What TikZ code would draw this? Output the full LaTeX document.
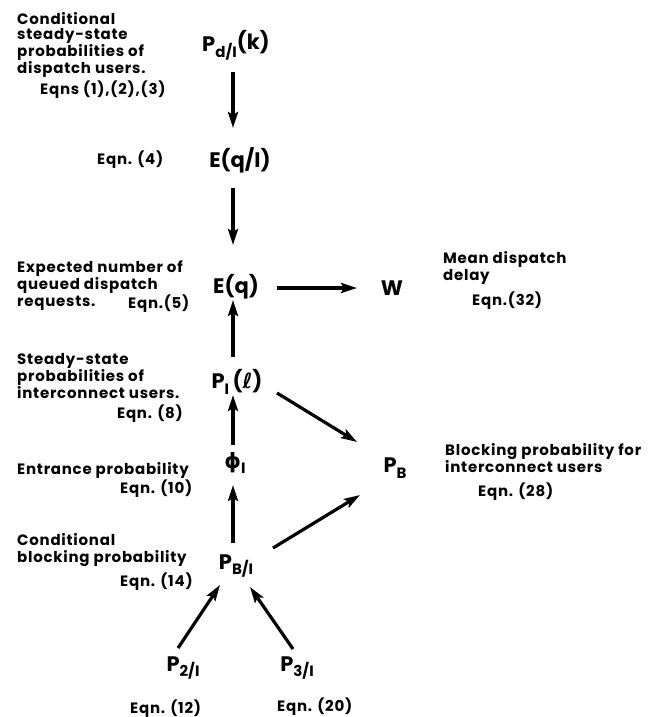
\documentclass[tikz,border=0pt]{standalone}
\usepackage{fontspec}
\setmainfont{Poppins}[LetterSpace=5]
\newfontfamily\symfont{Poppins}
\newfontfamily\greekfont{DejaVu Sans}
\usetikzlibrary{arrows.meta,calc}
\newcommand{\mysub}[1]{\raisebox{-0.5ex}{\fontsize{15}{15}\selectfont #1}}
\begin{document}
\begin{tikzpicture}[x=1pt,y=-1pt,
  lbl/.style={inner sep=0pt,align=left,font=\fontsize{15}{17}\selectfont\bfseries},
  lbltight/.style={lbl,font=\fontsize{15}{15.7}\selectfont\bfseries},
  sym/.style={inner sep=0pt,font=\symfont\fontsize{21}{21}\selectfont\bfseries},
  arr/.style={line width=3.2pt,-{Stealth[length=16pt,width=10pt,inset=3pt]}}]
\useasboundingbox (0,0) rectangle (655,717);
% symbols
\node[sym] (Pd)  at (236,45)  {P\mysub{d/I}\raisebox{0.2ex}{(k)}};
\node[sym] (EqI) at (240,160) {E(q/I)};
\node[sym] (Eq)  at (236,287) {E(q)};
\node[sym] (W)   at (392,288) {W};
\node[sym] (PI)  at (237,382) {P\mysub{I}\,({\greekfont\bfseries ℓ})};
\node[sym] (phi) at (235,463) {{\greekfont\bfseries ϕ}\mysub{I}};
\node[sym] (PBI) at (236,566) {P\mysub{B/I}};
\node[sym] (P2)  at (183,668) {P\mysub{2/I}};
\node[sym] (P3)  at (297,668) {P\mysub{3/I}};
\node[sym] (PB)  at (395,468) {P\mysub{B}};
% labels
\node[lbltight,anchor=north west] (L1) at (17,12) {Conditional\\steady-state\\probabilities of\\dispatch users.};
\node[lbl,anchor=base west] (L1e) at (40,94) {Eqns (1),(2),(3)};
\node[lbl,anchor=west] (L2) at (97,160) {Eqn. (4)};
\node[lbl,anchor=north west] (L3) at (17,261) {Expected number of\\queued dispatch\\requests.};
\node[lbl,anchor=base west] (L3e) at (128,308) {Eqn.(5)};
\node[lbl,anchor=north west] (L4) at (17,353) {Steady-state\\probabilities of\\interconnect users.};
\node[lbl,anchor=base east] (L4e) at (183,418) {Eqn. (8)};
\node[lbl,anchor=base west] (L5) at (17,474) {Entrance probability};
\node[lbl,anchor=base west] (L5e) at (120,493) {Eqn. (10)};
\node[lbl,anchor=north west] (L6) at (17,533) {Conditional\\blocking probability};
\node[lbl,anchor=base west] (L6e) at (120,586) {Eqn. (14)};
\node[lbl,anchor=base west] (L7) at (130,713) {Eqn. (12)};
\node[lbl,anchor=base west] (L8) at (277,711) {Eqn. (20)};
\node[lbl,anchor=north west] (L9) at (443,251) {Mean dispatch\\delay};
\node[lbl,anchor=base west] (L9e) at (472,305) {Eqn.(32)};
\node[lbl,anchor=north west] (L10) at (445,443) {Blocking probability for\\interconnect users};
\node[lbl,anchor=base west] (L10e) at (478,496) {Eqn. (28)};
% arrows
\draw[arr] ($(Pd)+(-3,27)$) -- ($(EqI)+(-7,-32)$);
\draw[arr] ($(EqI)+(-7,28)$) -- ($(Eq)+(-3,-42)$);
\draw[arr] ($(PI)+(-4,-25)$) -- ($(Eq)+(-3,13)$);
\draw[arr] ($(phi)+(-2,-18)$) -- ($(PI)+(-4,13)$);
\draw[arr] ($(PBI)+(-3,-23)$) -- ($(phi)+(-2,22)$);
\draw[arr] ($(P2)+(-5,-20)$) -- ($(PBI)+(-16,19)$);
\draw[arr] ($(P3)+(-4,-19)$) -- ($(PBI)+(14,21)$);
\draw[arr] ($(Eq)+(41,1)$) -- ($(W)+(-35,0)$);
\draw[arr] ($(PI)+(40,11)$) -- ($(PB)+(-38,-26)$);
\draw[arr] ($(PBI)+(37,-18)$) -- ($(PB)+(-35,27)$);
\end{tikzpicture}
\end{document}
